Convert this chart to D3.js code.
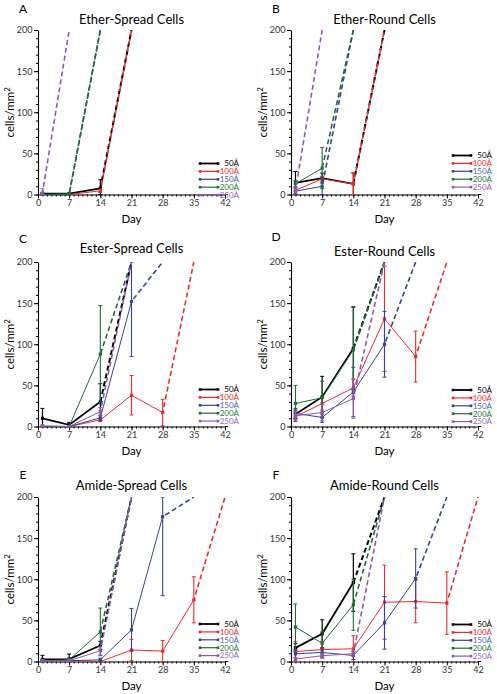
<!DOCTYPE html>
<html><head><meta charset="utf-8">
<script src="https://cdn.jsdelivr.net/npm/d3@7"></script>
<style>body{margin:0;background:#fff} svg{display:block}</style>
</head><body>
<svg id="chart" width="497" height="694"></svg>
<script>
// ---------- data ----------
const days = [1, 7, 14, 21, 28, 35];
const seriesNames = ["50Å", "100Å", "150Å", "200Å", "250Å"];
const seriesColors = ["#000000", "#ee2a2a", "#34449c", "#1e6e3a", "#8e58b4"];
const legendColors = ["#000000", "#ee2a2a", "#4a64bc", "#2a7a42", "#9a66c0"];
const xTicks = [0, 7, 14, 21, 28, 35, 42];
const yTicks = [0, 50, 100, 150, 200];
const panelLetters = ["A", "B", "C", "D", "E", "F"];
const panelTitles = ["Ether-Spread Cells", "Ether-Round Cells", "Ester-Spread Cells",
  "Ester-Round Cells", "Amide-Spread Cells", "Amide-Round Cells"];

// mean per series (50,100,150,200,250 Å), values at days[0..n-1]
const etherSpreadMean = [[1, 1, 7.5], [0, 0, 4.5], [0, 0], [0, 1], [2]];
const etherSpreadSD   = [[1, 1, 10.5], [0.5, 0.5, 2], [0, 0], [1, 1], [5]];
const etherSpreadDashTo = [21, 21, 14, 14, 7];

const etherRoundMean = [[14, 20, 13], [5, 19, 13], [4, 10], [13, 32], [5]];
const etherRoundSD   = [[14, 6, 13], [4, 3, 13], [4, 10], [4, 25], [4]];
const etherRoundDashTo = [21, 21, 14, 14, 7];

const esterSpreadMean = [[10, 2, 30], [0, 0, 8, 38, 17], [0, 0, 10.5, 152], [0, 0, 88], [1, 0, 18]];
const esterSpreadSD   = [[12, 3, 22], [0, 0, 2, 24, 16], [0, 0, 3, 67], [0, 0, 59], [1, 0, 5]];
const esterSpreadDashTo = [21, 35, 28, 21, 21];

const esterRoundMean = [[15, 36, 95], [12, 28, 47, 131, 85], [16, 11, 42, 100], [28, 35, 93], [13, 17, 34]];
const esterRoundSD   = [[5, 25, 50], [4, 8, 10, 64, 31], [6, 6, 30, 40], [22, 20, 53], [5, 10, 24]];
const esterRoundDashTo = [21, 35, 28, 21, 21];

const amideSpreadMean = [[2.5, 3, 19.5], [1, 1, 0, 14, 12.6, 75], [1, 1, 2, 38.5, 176], [1, 2, 36], [1, 1, 13]];
const amideSpreadSD   = [[5, 6, 5], [1, 1, 1, 13, 13, 28], [1, 1, 2, 26, 96], [1, 2, 29], [1, 1, 5]];
const amideSpreadDashTo = [21, 42, 35, 21, 21];

const amideRoundMean = [[16.6, 33.7, 96], [12, 14.6, 15.4, 72, 73, 71], [9.3, 11, 7.3, 47, 101], [42, 22, 69], [3, 7, 9.5]];
const amideRoundSD   = [[5, 17, 35], [12, 10, 16, 45, 26, 38], [5, 5, 5, 32, 36], [28, 14, 31], [2, 3, 3]];
const amideRoundDashTo = [21, 42, 35, 21, 21];

const panelMeans = [etherSpreadMean, etherRoundMean, esterSpreadMean, esterRoundMean, amideSpreadMean, amideRoundMean];
const panelSDs = [etherSpreadSD, etherRoundSD, esterSpreadSD, esterRoundSD, amideSpreadSD, amideRoundSD];
const panelDashTo = [etherSpreadDashTo, etherRoundDashTo, esterSpreadDashTo, esterRoundDashTo, amideSpreadDashTo, amideRoundDashTo];

// ---------- layout ----------
const colLeft = [38, 291];
const plotW = 187;
const rowTop = [30, 262, 497];
const plotH = 164.5;
const titleBase = [24, 24, 253, 256, 490, 490];
const letterBase = [12.5, 12.5, 242.5, 241, 478.5, 478.5];
const legendTopOff = [31, 39, 37, 36.5, 37.5, 37];
const font = "Lato, 'Open Sans', sans-serif";

const svg = d3.select("#chart");
svg.append("rect").attr("width", 497).attr("height", 694).attr("fill", "#fff");

panelTitles.forEach((title, p) => {
  const L = colLeft[p % 2], T = rowTop[Math.floor(p / 2)];
  const B = T + plotH, R = L + plotW;
  const x = d3.scaleLinear().domain([0, 42]).range([L, R]);
  const y = d3.scaleLinear().domain([0, 200]).range([B, T]);
  const g = svg.append("g");

  const clipId = "clip" + p;
  svg.append("clipPath").attr("id", clipId).append("rect")
    .attr("x", L - 5).attr("y", T).attr("width", plotW + 10).attr("height", plotH + 1);

  // axes: minor ticks
  g.append("g").attr("transform", `translate(0,${B})`)
    .call(d3.axisBottom(x).tickValues(d3.range(0, 43, 1)).tickSize(2).tickSizeOuter(0).tickFormat(""))
    .call(a => a.select(".domain").remove());
  g.append("g").attr("transform", `translate(${L},0)`)
    .call(d3.axisLeft(y).tickValues(d3.range(0, 201, 10)).tickSize(2).tickSizeOuter(0).tickFormat(""))
    .call(a => a.select(".domain").remove());
  // major
  const xa = g.append("g").attr("transform", `translate(0,${B})`)
    .call(d3.axisBottom(x).tickValues(xTicks).tickSize(4).tickSizeOuter(0).tickPadding(1.5));
  const ya = g.append("g").attr("transform", `translate(${L},0)`)
    .call(d3.axisLeft(y).tickValues(yTicks).tickSize(4).tickSizeOuter(0).tickPadding(1.5));
  [xa, ya].forEach(a => {
    a.selectAll("text").attr("font-size", 9).attr("font-family", font).attr("fill", "#333");
    a.select(".domain").attr("stroke-width", 1.1);
  });
  g.selectAll(".tick line").attr("stroke", "#000");
  g.append("line").attr("x1", R).attr("x2", R + 3).attr("y1", B).attr("y2", B).attr("stroke", "#000");

  // labels
  g.append("text").attr("x", L - 15).attr("y", letterBase[p]).attr("text-anchor", "middle")
    .attr("font-family", font).attr("font-size", 12).text(panelLetters[p]);
  g.append("text").attr("x", (L + R) / 2).attr("y", titleBase[p]).attr("text-anchor", "middle")
    .attr("font-family", font).attr("font-size", 13).text(title);
  g.append("text").attr("x", (L + R) / 2).attr("y", B + 28.5).attr("text-anchor", "middle")
    .attr("font-family", font).attr("font-size", 11.5).text("Day");
  const yl = g.append("text").attr("transform", `translate(${L - 24},${(T + B) / 2}) rotate(-90)`)
    .attr("text-anchor", "middle").attr("font-family", font).attr("font-size", 11.5);
  yl.append("tspan").text("cells/mm");
  yl.append("tspan").attr("dy", -4).attr("font-size", 8).text("2");

  // series
  const data = svg.append("g").attr("clip-path", `url(#${clipId})`);
  const means = panelMeans[p], sds = panelSDs[p], dashTo = panelDashTo[p];
  means.forEach((ms, i) => {
    const col = seriesColors[i];
    const pts = ms.map((m, j) => ({ d: days[j], m: m, s: sds[i][j] }));
    const sg = data.append("g");
    const line = d3.line().x(d => x(d.d)).y(d => y(d.m));
    const last = pts[pts.length - 1];
    sg.append("path").datum([last, { d: dashTo[i], m: 200 }])
      .attr("d", line).attr("fill", "none").attr("stroke", col)
      .attr("stroke-width", i === 0 ? 2 : 1.6).attr("stroke-dasharray", "5,3")
      .attr("stroke-dashoffset", i * 2.5);
    pts.forEach(pt => {
      if (pt.s <= 0) return;
      const lo = Math.max(0, pt.m - pt.s), hi = Math.min(200, pt.m + pt.s);
      sg.append("line").attr("x1", x(pt.d)).attr("x2", x(pt.d)).attr("y1", y(lo)).attr("y2", y(hi))
        .attr("stroke", col).attr("stroke-width", i === 0 ? 1.2 : 1.1);
      [lo, hi].forEach(v => sg.append("line").attr("x1", x(pt.d) - 2).attr("x2", x(pt.d) + 2)
        .attr("y1", y(v)).attr("y2", y(v)).attr("stroke", col).attr("stroke-width", 1));
    });
    if (pts.length > 1) {
      sg.append("path").datum(pts).attr("d", line).attr("fill", "none").attr("stroke", col)
        .attr("stroke-width", i === 0 ? 1.8 : 1);
    }
    sg.selectAll("rect.pt").data(pts).enter().append("rect").attr("class", "pt")
      .attr("x", d => x(d.d) - 1.6).attr("y", d => y(d.m) - 1.6).attr("width", 3.2).attr("height", 3.2)
      .attr("fill", col);
  });

  // legend
  const lg = svg.append("g");
  seriesNames.forEach((nm, i) => {
    const ly = B - legendTopOff[p] + i * 7.9;
    lg.append("line").attr("x1", L + 162).attr("x2", L + 180).attr("y1", ly).attr("y2", ly)
      .attr("stroke", seriesColors[i]).attr("stroke-width", i === 0 ? 1.8 : 1.2);
    [L + 162, L + 180].forEach(cx => lg.append("rect").attr("x", cx - 1.3).attr("y", ly - 1.3)
      .attr("width", 2.6).attr("height", 2.6).attr("fill", seriesColors[i]));
    lg.append("text").attr("x", L + 201).attr("y", ly).attr("dy", "0.35em").attr("text-anchor", "end")
      .attr("font-family", font).attr("font-size", 8).attr("fill", legendColors[i]).text(nm);
  });
});
</script>
</body></html>
